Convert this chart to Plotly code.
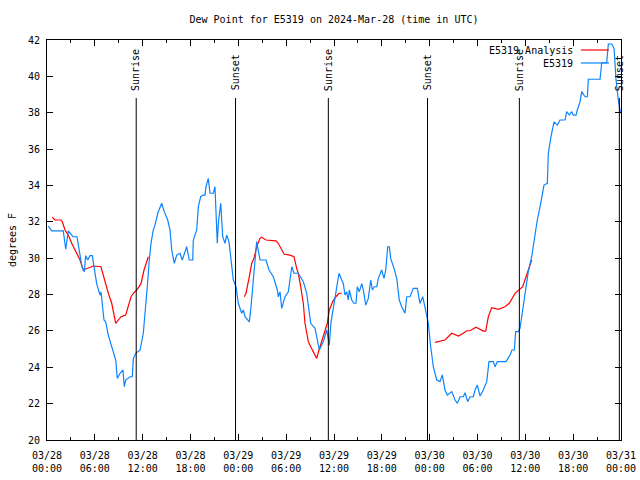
import pandas as pd
import plotly.graph_objects as go

# ---- data (hours since 2024-03-28 00:00 UTC, degrees F) ----
obs_hours = [0.16, 0.59, 2.04, 2.35, 2.67, 3.26, 3.76, 3.89, 4.39, 4.68, 4.85, 5.11, 5.39, 5.68, 5.93,
             6.23, 6.65, 6.77, 7.15, 7.36, 7.69, 8.24, 8.62, 8.82, 9.16, 9.53, 9.70, 9.87, 10.41, 10.70,
             10.83, 11.13, 11.67, 12.08, 12.29, 12.58, 12.83, 13.05, 13.33, 13.55, 13.89, 14.39, 14.71,
             15.14, 15.43, 15.64, 15.97, 16.27, 16.68, 16.97, 17.52, 17.85, 18.28, 18.35, 18.78, 18.98,
             19.28, 19.57, 19.82, 19.94, 20.23, 20.45, 20.86, 21.07, 21.36, 21.49, 21.79, 22.04, 22.33,
             22.54, 22.83, 23.17, 23.37, 23.71, 24.00, 24.42, 24.62, 24.84, 25.38, 25.59, 25.97, 26.30,
             26.72, 27.47, 27.85, 28.39, 28.89, 29.01, 29.23, 29.44, 29.85, 30.27, 30.70, 30.98, 31.52,
             32.15, 32.58, 33.08, 33.62, 34.16, 34.46, 34.66, 35.09, 35.41, 35.63, 36.01, 36.25, 36.63,
             36.97, 37.17, 37.38, 37.59, 37.79, 37.92, 38.22, 38.51, 38.76, 38.92, 39.17, 39.48, 39.68,
             39.98, 40.30, 40.61, 40.81, 41.06, 41.36, 41.56, 41.98, 42.27, 42.49, 42.74, 42.94, 43.11,
             43.53, 43.87, 44.19, 44.49, 44.91, 45.12, 45.53, 45.95, 46.45, 46.79, 47.13, 47.63, 47.83,
             48.13, 48.46, 48.88, 49.30, 49.59, 49.92, 50.21, 50.77, 51.18, 51.47, 51.81, 52.22, 52.44,
             52.77, 53.06, 53.48, 53.69, 53.98, 54.32, 54.73, 55.16, 55.44, 55.98, 56.20, 56.49, 57.58,
             58.08, 58.33, 58.62, 58.79, 59.12, 59.33, 59.67, 60.05, 60.37, 60.80, 61.13, 61.50, 61.93,
             62.34, 62.76, 62.88, 63.22, 63.60, 64.01, 64.35, 64.98, 65.19, 65.52, 65.82, 66.02, 66.36,
             66.52, 66.86, 67.07, 67.49, 67.78, 67.90, 69.37, 69.58, 70.21, 70.41, 70.84, 71.13, 71.38,
             71.66, 71.96]
obs_values = [31.77, 31.5, 31.5, 30.49, 31.5, 31.18, 31.18, 30.8, 29.5, 29.26, 30.14, 29.9, 30.14, 30.14, 29.53,
              28.6, 27.97, 28.15, 26.6, 26.5, 25.77, 24.95, 24.4, 23.39, 23.67, 23.85, 22.93, 23.3, 23.48, 23.48,
              24.49, 24.77, 24.95, 25.87, 26.78, 28.43, 29.9, 30.82, 31.55, 31.82, 32.47, 33.02, 32.56,
              32.1, 31.55, 30.45, 29.72, 30.17, 30.27, 29.9, 30.63, 29.9, 29.9, 31.0, 31.55, 32.83,
              33.38, 33.47, 33.47, 33.93, 34.39, 33.57, 33.57, 33.93, 30.82, 31.92, 33.02, 31.18, 30.82,
              31.27, 30.9, 29.53, 28.8, 28.43, 27.52, 26.97, 27.15, 26.78, 26.5, 27.33, 29.35, 30.91,
              29.9, 29.9, 29.35, 28.98, 28.25, 27.88, 28.15, 27.24, 27.88, 28.15, 29.53, 29.17, 29.17,
              28.71, 28.07, 26.42, 26.14, 24.95, 25.22, 25.41, 26.05, 25.22, 26.5, 27.52, 27.97, 29.17,
              28.8, 28.6, 27.97, 28.15, 27.7, 28.25, 27.7, 27.52, 27.52, 28.43, 28.15, 28.6, 28.25,
              27.42, 27.79, 28.8, 28.25, 28.43, 28.43, 28.89, 29.35, 28.89, 29.35, 30.63, 30.63, 29.99,
              29.44, 28.89, 27.7, 27.33, 26.97, 27.88, 27.88, 28.34, 28.34, 27.52, 27.88, 26.78, 26.42,
              25.13, 24.03, 23.3, 23.21, 23.58, 22.75, 22.47, 22.66, 22.2, 22.02, 22.38, 22.38, 22.6,
              22.11, 22.38, 22.38, 22.75, 23.02, 22.42, 22.75, 23.21, 24.31, 24.31, 24.03, 24.31, 24.31,
              24.67, 24.95, 24.95, 25.96, 25.96, 26.14, 27.15, 28.25, 29.26, 30.08, 31.0, 32.1, 33.02,
              34.02, 34.12, 35.77, 36.68, 37.5, 37.32, 37.6, 37.6, 38.06, 37.87, 38.06, 37.87, 37.87,
              38.15, 38.6, 39.16, 38.88, 38.88, 39.84, 39.84, 40.75, 40.75, 41.78, 41.78, 41.54, 39.8,
              38.7, 37.97]

# analysis series (None = gap)
ana_hours = [0.66, 1.00, 1.76, 1.92, 2.26, 2.67, 3.10, 3.73, 4.14, 4.55, 5.81, 6.77, 7.19, 7.69, 8.12,
             8.62, 9.28, 9.87, 10.54, 10.83, 11.25, 11.79, 12.17, 12.71, 18.0,
             24.75, 24.96, 25.38, 25.68, 25.97, 26.30, 26.72, 26.93, 27.47, 28.19, 28.73, 29.01, 29.32,
             29.73, 30.48, 30.98, 31.32, 31.52, 31.82, 32.15, 32.36, 32.78, 33.08, 33.49, 33.83, 34.12,
             34.53, 34.87, 35.16, 35.41, 35.84, 36.25, 36.63, 36.97, 42.0,
             48.67, 49.08, 49.92, 50.77, 51.59, 52.22, 52.65, 53.06, 53.81, 54.73, 55.03, 55.36, 55.78,
             56.61, 57.45, 57.99, 58.71, 59.67, 60.17, 60.80]
ana_values = [32.25, 32.1, 32.1, 32.0, 31.55, 31.27, 30.82, 30.27, 29.9, 29.35, 29.57, 29.53, 28.8, 28.07, 27.52,
              26.42, 26.78, 26.87, 27.88, 28.07, 28.25, 28.6, 29.35, 30.08, None,
              27.88, 28.07, 28.98, 29.72, 29.99, 30.63, 31.09, 31.15, 31.0, 30.95, 30.95, 30.82, 30.54,
              30.23, 30.17, 30.08, 29.44, 29.17, 28.43, 27.52, 26.42, 25.41, 25.13, 24.77, 24.49, 24.95,
              25.5, 25.96, 26.42, 27.15, 27.61, 27.88, 28.07, 28.07, None,
              25.37, 25.41, 25.5, 25.87, 25.72, 25.87, 26.01, 26.01, 26.2, 25.99, 25.99, 26.78, 27.28,
              27.19, 27.33, 27.52, 28.07, 28.43, 29.07, 29.9]

sun_hours = [11.19, 23.65, 35.29, 47.73, 59.25, 71.79]
sun_labels = ["Sunrise", "Sunset", "Sunrise", "Sunset", "Sunrise", "Sunset"]

base = pd.Timestamp("2024-03-28 00:00")
to_t = lambda h: base + pd.Timedelta(hours=h)
obs_t = [to_t(h) for h in obs_hours]
ana_t = [to_t(h) for h in ana_hours]
sun_t = [to_t(h) for h in sun_hours]

FONT = "DejaVu Sans Mono"
RED = "#ff0000"
BLUE = "#0a84ff"

fig = go.Figure()
fig.add_trace(go.Scatter(x=ana_t, y=ana_values, mode="lines", name="E5319 Analysis",
                         line=dict(color=RED, width=1.2), connectgaps=False, showlegend=False))
fig.add_trace(go.Scatter(x=obs_t, y=obs_values, mode="lines", name="E5319",
                         line=dict(color=BLUE, width=1.2), showlegend=False))

shapes = []
annotations = []
for t, lab in zip(sun_t, sun_labels):
    shapes.append(dict(type="line", xref="x", yref="y domain", x0=t, x1=t, y0=0, y1=0.855,
                       line=dict(color="black", width=1)))
    annotations.append(dict(x=t, xref="x", y=0.868, yref="y domain", text=lab, textangle=-90,
                            showarrow=False, xanchor="center", yanchor="bottom",
                            font=dict(family=FONT, size=10, color="black")))

# legend (text right-aligned, sample line to the right, gnuplot style)
legend_items = [("E5319 Analysis", RED, 0.975), ("E5319", BLUE, 0.9425)]
for name, col, yy in legend_items:
    annotations.append(dict(x=0.919, xref="paper", y=yy, yref="paper", text=name, showarrow=False,
                            xanchor="right", yanchor="middle",
                            font=dict(family=FONT, size=10, color="black")))
    shapes.append(dict(type="line", xref="paper", yref="paper", x0=0.930, x1=0.979, y0=yy, y1=yy,
                       line=dict(color=col, width=1.2)))

fig.update_layout(
    template="none",
    width=640, height=480, autosize=False,
    margin=dict(l=47, r=19, t=40, b=40, autoexpand=False),
    paper_bgcolor="white", plot_bgcolor="white",
    font=dict(family=FONT, size=10, color="black"),
    title=dict(text="Dew Point for E5319 on 2024-Mar-28 (time in UTC)", x=0.5, xref="paper",
               y=1 - 19 / 480, yref="container", xanchor="center", yanchor="middle",
               font=dict(family=FONT, size=10)),
    shapes=shapes, annotations=annotations,
)
fig.update_xaxes(
    type="date", range=[base, base + pd.Timedelta(hours=72)], automargin=False,
    dtick=6 * 3600 * 1000, tick0=base, tickformat="%m/%d<br>%H:%M",
    ticks="inside", ticklen=6, tickcolor="black", showgrid=False, zeroline=False,
    showline=True, linecolor="black", linewidth=1, mirror="ticks",
    minor=dict(dtick=3 * 3600 * 1000, ticks="inside", ticklen=3, tickcolor="black", showgrid=False),
    tickfont=dict(family=FONT, size=10), ticklabelstandoff=6,
)
fig.update_yaxes(
    range=[20, 42], dtick=2, automargin=False, ticks="inside", ticklen=6, tickcolor="black",
    showgrid=False, zeroline=False, showline=True, linecolor="black", linewidth=1, mirror="ticks",
    title=dict(text="degrees F", font=dict(family=FONT, size=10), standoff=9),
    tickfont=dict(family=FONT, size=10), ticklabelstandoff=4,
)

fig.write_html("out.html", config={"responsive": False, "displayModeBar": False},
               post_script="document.body.style.margin='0';document.body.style.overflow='hidden';")
